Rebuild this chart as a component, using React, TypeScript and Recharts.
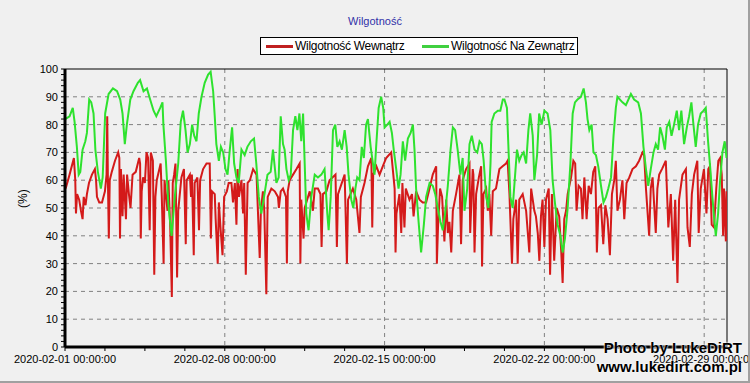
import { CartesianGrid, Line, LineChart, ReferenceLine, XAxis, YAxis } from "recharts";

// days since 2020-02-01 00:00, humidity %
const inside: [number, number][] = [
  [0.03, 57], [0.2, 62], [0.39, 68], [0.45, 60], [0.48, 48], [0.53, 55], [0.62, 53], [0.7, 49], [0.77, 46],
  [0.82, 54], [0.9, 51], [0.96, 55], [1.05, 59], [1.18, 62], [1.31, 64], [1.36, 60], [1.4, 54], [1.5, 52],
  [1.62, 52], [1.75, 56], [1.82, 62], [1.85, 83], [1.88, 60], [1.92, 39], [1.96, 60], [2.05, 63], [2.19, 67],
  [2.33, 70], [2.38, 68], [2.41, 39], [2.45, 64], [2.52, 47], [2.57, 62], [2.67, 46], [2.72, 62], [2.8, 55],
  [2.87, 50], [2.96, 62], [3.1, 63], [3.25, 68], [3.29, 66], [3.32, 39], [3.36, 56], [3.42, 61], [3.5, 59],
  [3.57, 70], [3.64, 68], [3.71, 42], [3.76, 70], [3.85, 67], [3.91, 26], [3.96, 54], [4.02, 60], [4.19, 66],
  [4.24, 54], [4.32, 30], [4.36, 60], [4.49, 49], [4.53, 60], [4.61, 43], [4.68, 18], [4.72, 59], [4.78, 62],
  [4.84, 66], [4.91, 25], [4.96, 49], [5.1, 61], [5.21, 64], [5.29, 37], [5.33, 60], [5.47, 62], [5.52, 54],
  [5.56, 62], [5.64, 33], [5.68, 59], [5.8, 61], [5.87, 42], [5.92, 60], [6.05, 64], [6.2, 66], [6.34, 66],
  [6.39, 39], [6.44, 56], [6.56, 55], [6.6, 46], [6.69, 30], [6.74, 52], [6.82, 42], [6.9, 33], [6.97, 54],
  [7.09, 56], [7.17, 59], [7.29, 59], [7.36, 52], [7.44, 59], [7.51, 44], [7.56, 64], [7.62, 54], [7.73, 60],
  [7.8, 48], [7.85, 59], [7.92, 26], [8.0, 59], [8.1, 60], [8.24, 64], [8.39, 62], [8.53, 32], [8.58, 49],
  [8.67, 56], [8.73, 49], [8.82, 19], [8.88, 54], [9.04, 57], [9.19, 56], [9.33, 54], [9.37, 50], [9.45, 56],
  [9.55, 57], [9.68, 54], [9.72, 30], [9.76, 56], [9.84, 60], [9.99, 62], [10.14, 64], [10.28, 66], [10.31, 30],
  [10.35, 53], [10.45, 39], [10.5, 50], [10.72, 56], [10.86, 49], [10.94, 57], [11.08, 57], [11.19, 55],
  [11.24, 36], [11.3, 55], [11.45, 56], [11.59, 60], [11.85, 62], [11.91, 36], [11.96, 55], [12.25, 62],
  [12.35, 30], [12.4, 53], [12.61, 57], [12.76, 53], [12.9, 41], [12.96, 54], [13.12, 59], [13.27, 65],
  [13.42, 68], [13.46, 43], [13.5, 62], [13.64, 65], [13.78, 62], [13.92, 65], [14.07, 68], [14.29, 70],
  [14.44, 57], [14.48, 34], [14.52, 48], [14.65, 55], [14.73, 41], [14.78, 59], [14.87, 43], [14.93, 57],
  [15.09, 53], [15.2, 55], [15.27, 47], [15.38, 56], [15.53, 53], [15.67, 52], [15.82, 52], [15.97, 57],
  [16.11, 62], [16.26, 65], [16.29, 30], [16.34, 43], [16.43, 57], [16.52, 54], [16.62, 38], [16.7, 53],
  [16.77, 41], [16.84, 45], [16.92, 34], [16.99, 49], [17.13, 55], [17.28, 62], [17.35, 37], [17.42, 60],
  [17.57, 64], [17.72, 66], [17.75, 41], [17.86, 64], [17.89, 62], [17.94, 34], [18.01, 55], [18.13, 61],
  [18.23, 65], [18.27, 29], [18.33, 55], [18.45, 57], [18.52, 49], [18.59, 55], [18.67, 40], [18.74, 56],
  [18.88, 57], [19.03, 64], [19.17, 65], [19.32, 66], [19.39, 67], [19.47, 55], [19.58, 30], [19.64, 46],
  [19.76, 53], [19.83, 30], [19.9, 53], [20.05, 55], [20.2, 49], [20.34, 34], [20.42, 57], [20.49, 53],
  [20.56, 49], [20.63, 47], [20.71, 41], [20.78, 31], [20.85, 47], [20.92, 53], [21.0, 36], [21.07, 53],
  [21.19, 57], [21.25, 26], [21.33, 55], [21.43, 31], [21.54, 50], [21.65, 47], [21.74, 34], [21.8, 23],
  [21.87, 46], [21.95, 49], [22.02, 55], [22.17, 61], [22.27, 67], [22.35, 66], [22.41, 49], [22.5, 58],
  [22.6, 57], [22.67, 46], [22.75, 61], [22.85, 46], [22.94, 58], [23.04, 55], [23.14, 63], [23.23, 65],
  [23.3, 34], [23.37, 50], [23.48, 51], [23.58, 37], [23.67, 51], [23.77, 46], [23.87, 33], [23.96, 55],
  [24.06, 60], [24.13, 67], [24.2, 49], [24.31, 53], [24.42, 60], [24.5, 46], [24.6, 59], [24.72, 61],
  [24.86, 64], [25.01, 65], [25.15, 67], [25.3, 70], [25.37, 69], [25.45, 57], [25.59, 40], [25.66, 57],
  [25.74, 61], [25.88, 41], [25.95, 57], [26.03, 62], [26.15, 64], [26.32, 67], [26.43, 43], [26.54, 55],
  [26.64, 31], [26.73, 53], [26.83, 23], [26.9, 53], [27.05, 62], [27.2, 64], [27.27, 43], [27.37, 36],
  [27.46, 55], [27.56, 62], [27.7, 67], [27.76, 41], [27.85, 57], [27.99, 64], [28.1, 48], [28.18, 64],
  [28.25, 65], [28.33, 44], [28.43, 43], [28.53, 57], [28.62, 67], [28.7, 68], [28.77, 62], [28.83, 40],
  [28.87, 57], [28.95, 38], [28.98, 56],
];

const outside: [number, number][] = [
  [0.01, 82], [0.2, 83], [0.34, 86], [0.42, 81], [0.52, 72], [0.6, 62], [0.67, 63], [0.77, 71], [0.89, 74],
  [0.96, 77], [1.06, 89], [1.15, 88], [1.25, 84], [1.33, 71], [1.44, 63], [1.57, 57], [1.65, 61], [1.76, 84],
  [1.91, 91], [2.1, 93], [2.28, 92], [2.42, 89], [2.52, 84], [2.62, 73], [2.71, 80], [2.86, 89], [3.0, 92],
  [3.19, 95], [3.29, 96], [3.44, 92], [3.59, 93], [3.73, 89], [3.88, 85], [4.0, 83], [4.17, 86], [4.27, 88],
  [4.31, 80], [4.42, 67], [4.53, 51], [4.67, 40], [4.81, 54], [4.96, 66], [5.07, 81], [5.17, 85], [5.28, 78],
  [5.37, 70], [5.47, 73], [5.57, 80], [5.66, 76], [5.76, 74], [5.86, 84], [5.98, 90], [6.12, 95], [6.27, 98],
  [6.38, 99], [6.49, 92], [6.56, 83], [6.63, 73], [6.74, 67], [6.83, 72], [6.93, 70], [7.03, 64], [7.12, 62],
  [7.22, 71], [7.32, 79], [7.41, 66], [7.51, 61], [7.61, 59], [7.73, 71], [7.87, 69], [7.99, 72], [8.14, 74],
  [8.28, 75], [8.38, 66], [8.49, 54], [8.6, 48], [8.72, 54], [8.87, 62], [9.01, 63], [9.11, 71], [9.26, 59],
  [9.36, 61], [9.45, 83], [9.55, 73], [9.62, 71], [9.7, 64], [9.8, 60], [9.89, 62], [9.99, 78], [10.09, 83],
  [10.18, 78], [10.27, 84], [10.35, 74], [10.43, 84], [10.5, 66], [10.57, 48], [10.67, 42], [10.79, 54],
  [10.94, 62], [11.08, 61], [11.23, 62], [11.37, 64], [11.49, 48], [11.55, 42], [11.64, 54], [11.74, 78],
  [11.84, 80], [11.93, 72], [12.03, 74], [12.13, 71], [12.25, 78], [12.34, 72], [12.42, 62], [12.54, 53],
  [12.63, 50], [12.72, 57], [12.8, 61], [12.9, 60], [13.0, 72], [13.09, 68], [13.19, 80], [13.27, 82],
  [13.39, 72], [13.49, 66], [13.56, 62], [13.63, 72], [13.74, 86], [13.85, 90], [13.94, 86], [14.0, 79],
  [14.12, 80], [14.22, 81], [14.32, 77], [14.4, 71], [14.51, 64], [14.61, 57], [14.7, 62], [14.8, 74],
  [14.9, 67], [15.02, 75], [15.14, 77], [15.24, 80], [15.31, 71], [15.38, 57], [15.49, 45], [15.6, 34],
  [15.72, 44], [15.82, 54], [15.97, 59], [16.11, 58], [16.22, 55], [16.33, 50], [16.45, 45], [16.55, 42],
  [16.65, 48], [16.77, 58], [16.89, 71], [16.99, 79], [17.09, 78], [17.2, 71], [17.32, 62], [17.42, 68],
  [17.5, 49], [17.62, 57], [17.72, 73], [17.82, 76], [17.94, 71], [18.06, 70], [18.16, 74], [18.26, 73],
  [18.34, 67], [18.45, 54], [18.55, 50], [18.64, 66], [18.69, 81], [18.81, 84], [18.96, 85], [19.07, 85],
  [19.18, 89], [19.25, 89], [19.36, 86], [19.42, 73], [19.51, 54], [19.61, 50], [19.71, 61], [19.8, 71],
  [19.9, 67], [20.0, 69], [20.09, 70], [20.2, 66], [20.3, 78], [20.38, 84], [20.49, 76], [20.56, 60],
  [20.68, 69], [20.77, 84], [20.88, 80], [21.0, 85], [21.14, 84], [21.26, 78], [21.36, 60], [21.46, 52],
  [21.58, 44], [21.7, 40], [21.8, 34], [21.9, 39], [22.02, 50], [22.14, 66], [22.24, 84], [22.34, 88],
  [22.45, 89], [22.6, 90], [22.72, 93], [22.82, 88], [22.89, 82], [22.97, 78], [23.07, 80], [23.15, 70],
  [23.26, 69], [23.36, 65], [23.48, 58], [23.59, 52], [23.7, 54], [23.8, 57], [23.92, 61], [24.03, 76],
  [24.13, 86], [24.2, 90], [24.42, 88], [24.57, 87], [24.79, 91], [24.93, 89], [25.11, 88], [25.23, 84],
  [25.34, 72], [25.45, 64], [25.55, 58], [25.66, 64], [25.78, 70], [25.88, 73], [25.98, 71], [26.07, 79],
  [26.17, 76], [26.28, 71], [26.36, 79], [26.47, 81], [26.57, 76], [26.68, 80], [26.8, 85], [26.9, 78],
  [27.0, 85], [27.12, 73], [27.24, 79], [27.34, 83], [27.44, 88], [27.53, 80], [27.63, 72], [27.73, 80],
  [27.85, 84], [27.97, 85], [28.07, 86], [28.17, 74], [28.26, 65], [28.36, 54], [28.43, 47], [28.51, 40],
  [28.61, 48], [28.69, 59], [28.8, 70], [28.9, 74], [28.98, 68],
];

const dateLabels = [
  "2020-02-01 00:00:00",
  "2020-02-08 00:00:00",
  "2020-02-15 00:00:00",
  "2020-02-22 00:00:00",
  "2020-02-29 00:00:00",
];
const majorDays = [0, 7, 14, 21, 28];
const minorDays = Array.from({ length: 17 }, (_, i) => i * 1.75);
const yTicks = Array.from({ length: 51 }, (_, i) => i * 2);
const yGrid = [10, 20, 30, 40, 50, 60, 70, 80, 90];

const RED = "#d41a1a";
const GREEN = "#2ee22e";
const FONT = "'Liberation Sans', Arial, sans-serif";

const rows = [
  ...inside.map(([d, v]) => ({ d, inside: v })),
  ...outside.map(([d, v]) => ({ d, outside: v })),
].sort((a, b) => a.d - b.d);

function XTick(props: any) {
  const { x, y, payload } = props;
  const idx = majorDays.indexOf(payload.value);
  if (idx < 0) return null;
  return (
    <text x={x} y={y} dy="0.71em" textAnchor="middle" fontSize={11} fontFamily={FONT} fill="#000">
      {dateLabels[idx]}
    </text>
  );
}

function YTick(props: any) {
  const { x, y, payload } = props;
  if (payload.value % 10 !== 0) return null;
  return (
    <text x={x} y={y} dy="0.355em" textAnchor="end" fontSize={11} fontFamily={FONT} fill="#000">
      {payload.value}
    </text>
  );
}

const legendText: React.CSSProperties = {
  position: "absolute",
  top: 1,
  fontSize: 12,
  whiteSpace: "nowrap",
  lineHeight: "14px",
  letterSpacing: -0.3,
};

export default function App() {
  return (
    <div
      style={{
        position: "absolute",
        left: 0,
        top: 0,
        width: 750,
        height: 383,
        background: "#f0f0f0",
        fontFamily: FONT,
        borderRight: "2px solid #a0a0a0",
        borderBottom: "2px solid #a0a0a0",
        boxSizing: "border-box",
        overflow: "hidden",
      }}
    >
      <div style={{ position: "absolute", top: 15, left: 0, width: 750, textAlign: "center", fontSize: 11, color: "#3030a8" }}>
        Wilgotność
      </div>
      <div
        style={{
          position: "absolute",
          top: 37,
          left: 260,
          width: 318,
          height: 18,
          boxSizing: "border-box",
          border: "1px solid #000",
          background: "#fff",
        }}
      >
        <span style={{ position: "absolute", left: 5, top: 7, width: 27, height: 3, background: "#c02020" }} />
        <span style={{ ...legendText, left: 34 }}>Wilgotność Wewnątrz</span>
        <span style={{ position: "absolute", left: 161, top: 7, width: 27, height: 3, background: "#40d040" }} />
        <span style={{ ...legendText, left: 190 }}>Wilgotność Na Zewnątrz</span>
      </div>
      <LineChart width={750} height={383} data={rows} margin={{ top: 69, right: 23, bottom: 6, left: 5 }}>
        <CartesianGrid
          stroke="#808080"
          strokeDasharray="4 4"
          verticalValues={[7, 14, 21, 28]}
          horizontalValues={yGrid}
        />
        <XAxis
          dataKey="d"
          type="number"
          domain={[0, 29]}
          ticks={minorDays}
          interval={0}
          allowDataOverflow
          height={30}
          tickSize={4}
          tickMargin={4}
          tickLine={{ stroke: "#000" }}
          axisLine={{ stroke: "#000", strokeWidth: 3 }}
          tick={<XTick />}
        />
        <YAxis
          type="number"
          domain={[0, 100]}
          ticks={yTicks}
          interval={0}
          width={60}
          tickSize={4}
          tickMargin={3}
          tickLine={{ stroke: "#000" }}
          axisLine={{ stroke: "#000", strokeWidth: 3 }}
          tick={<YTick />}
          label={{ value: "(%)", angle: -90, position: "insideLeft", offset: 18, fontSize: 12, fill: "#000", fontFamily: FONT }}
        />
        <ReferenceLine y={100} stroke="#000" strokeWidth={1} />
        <ReferenceLine x={29} stroke="#000" strokeWidth={1} />
        <Line dataKey="inside" type="linear" stroke={RED} strokeWidth={2} dot={false} connectNulls isAnimationActive={false} />
        <Line dataKey="outside" type="linear" stroke={GREEN} strokeWidth={2} dot={false} connectNulls isAnimationActive={false} />
      </LineChart>
      <div
        style={{
          position: "absolute",
          right: 6,
          top: 338,
          textAlign: "right",
          fontWeight: "bold",
          color: "#000",
          lineHeight: "19px",
          textShadow: "0 0 2px #fff, 0 0 2px #fff",
        }}
      >
        <div style={{ fontSize: 15 }}>Photo by LukeDiRT</div>
        <div style={{ fontSize: 15 }}>www.lukedirt.com.pl</div>
      </div>
    </div>
  );
}
